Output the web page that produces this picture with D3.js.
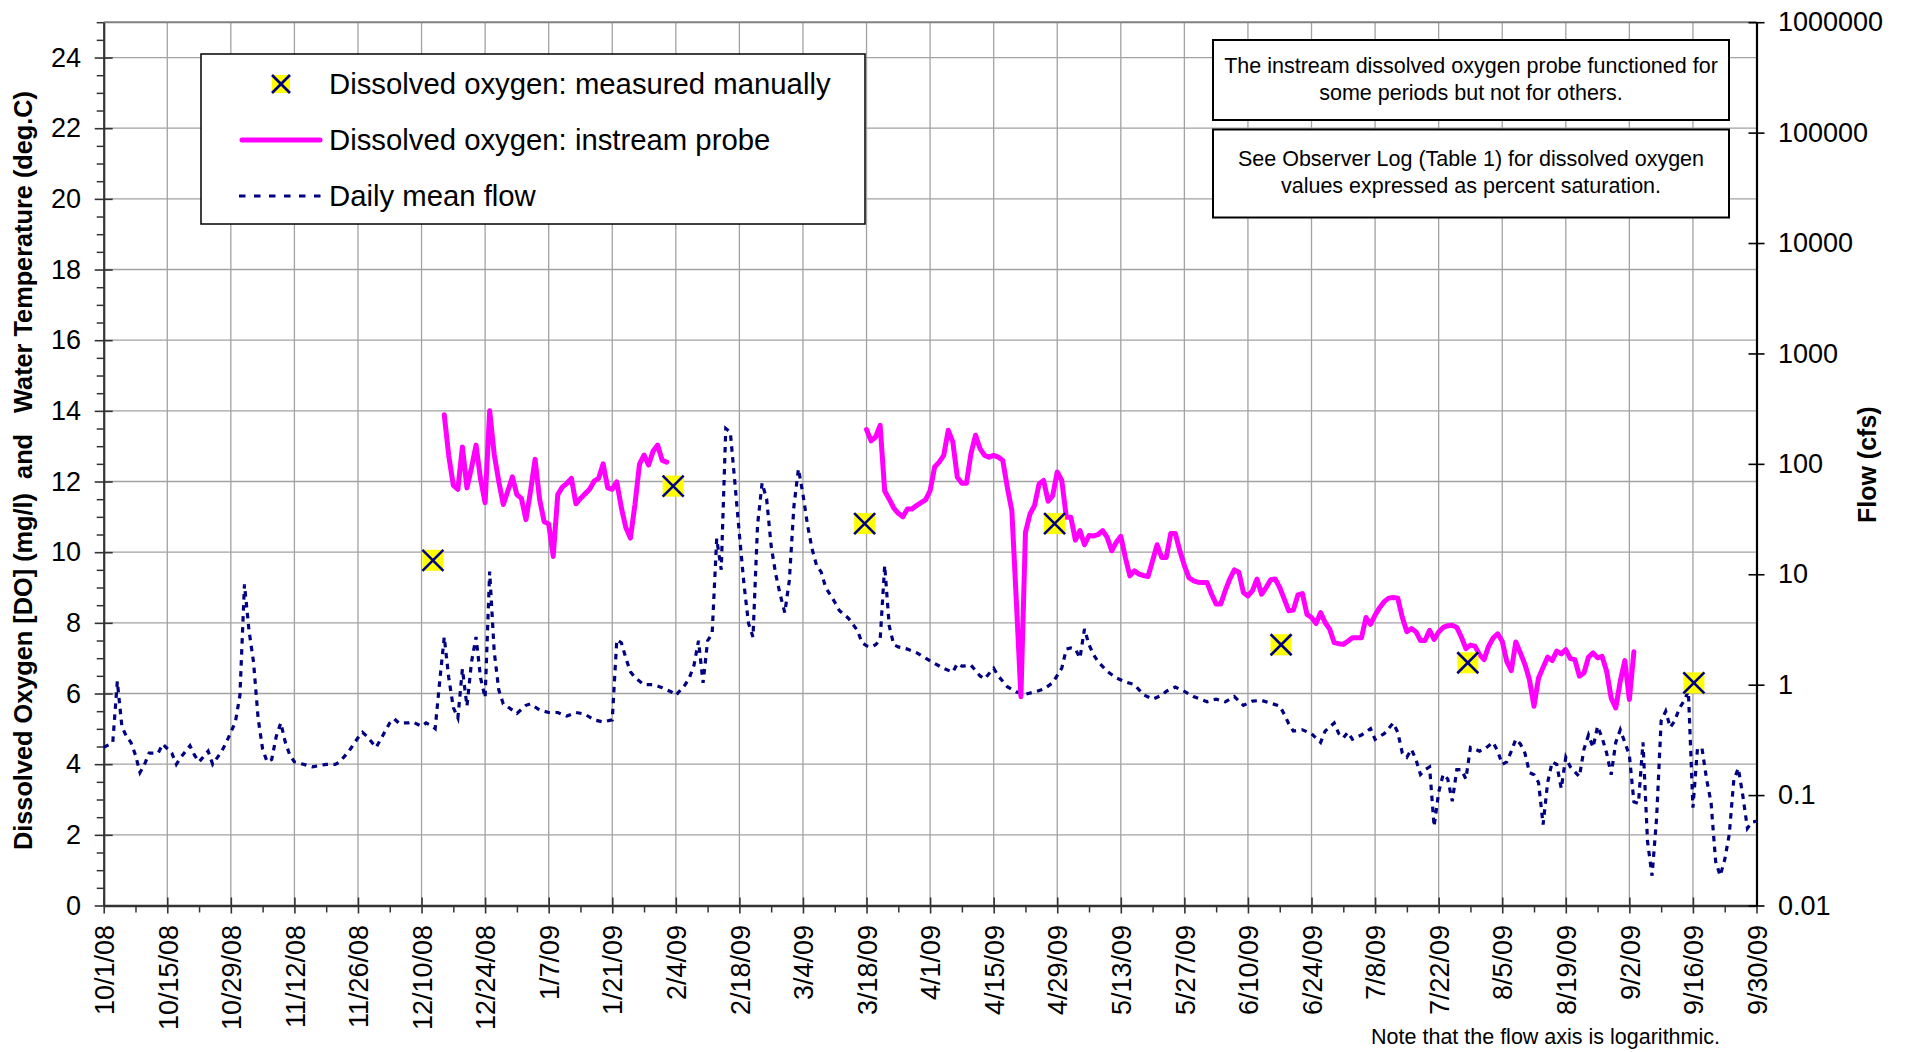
<!DOCTYPE html>
<html><head><meta charset="utf-8">
<script src="https://cdn.jsdelivr.net/npm/d3@7"></script>
<style>
html,body{margin:0;padding:0;background:#fff;}
svg{display:block;font-family:"Liberation Sans",Arial,sans-serif;}
</style></head><body>
<svg id="chart" width="1910" height="1052"></svg>
<script>
// ---------------- DATA ----------------
const startDate = "2008-10-01";
const endDate = "2009-09-30";
const xTickLabels = ["10/1/08","10/15/08","10/29/08","11/12/08","11/26/08","12/10/08","12/24/08",
  "1/7/09","1/21/09","2/4/09","2/18/09","3/4/09","3/18/09","4/1/09","4/15/09","4/29/09",
  "5/13/09","5/27/09","6/10/09","6/24/09","7/8/09","7/22/09","8/5/09","8/19/09","9/2/09","9/16/09","9/30/09"];
const doTicks = [0,2,4,6,8,10,12,14,16,18,20,22,24];
const flowTicks = [0.01,0.1,1,10,100,1000,10000,100000,1000000];
const flowTickLabels = ["0.01","0.1","1","10","100","1000","10000","100000","1000000"];

// Daily mean flow (cfs): day number counted from 10/1/08, and value
const flowDay = [0,2,3,4,5,6,7,8,9,10,12,13,15,16,17,19,20,21,23,24,26,27,28,29,30,31,32,33,34,35,36,37,38,39,40,41,42,44,46,49,51,52,54,56,57,58,60,61,63,64,65,67,68,70,71,72,73,74,75,76,77,78,79,80,81,82,83,84,85,86,87,88,89,91,93,94,96,98,100,102,104,106,108,110,112,113,114,115,116,117,119,121,123,125,126,128,129,130,131,132,133,134,135,136,137,138,139,140,141,142,143,144,145,146,147,148,149,150,151,152,153,154,155,156,157,158,159,161,162,164,166,167,168,169,170,171,172,173,174,175,177,179,181,183,185,187,188,189,191,193,194,196,197,199,201,203,205,207,209,211,212,213,214,215,216,217,218,219,221,223,225,227,229,231,233,234,236,238,240,243,245,247,249,251,253,255,257,259,260,261,262,264,266,268,269,271,272,273,274,275,277,279,280,282,284,285,286,287,288,289,290,291,292,293,294,295,296,297,298,299,300,301,302,303,304,306,307,308,309,310,311,312,313,314,315,316,317,318,319,320,321,322,323,325,326,327,328,329,330,331,332,333,334,335,336,337,338,339,340,341,342,343,344,345,346,347,348,349,350,351,352,353,354,355,356,357,358,359,360,361,362,363,364];
const flowCfs = [0.27,0.30,1.07,0.42,0.34,0.30,0.23,0.16,0.19,0.24,0.24,0.29,0.24,0.19,0.22,0.28,0.23,0.20,0.25,0.19,0.25,0.30,0.37,0.46,0.80,8.1,3.1,1.6,0.50,0.26,0.20,0.21,0.34,0.45,0.30,0.23,0.20,0.19,0.18,0.19,0.19,0.20,0.25,0.33,0.37,0.34,0.27,0.32,0.45,0.49,0.45,0.45,0.46,0.42,0.45,0.43,0.40,1.07,2.7,1.15,0.62,0.50,1.39,0.64,1.6,2.7,1.15,0.76,10.6,2.0,0.90,0.67,0.63,0.55,0.65,0.67,0.59,0.56,0.56,0.52,0.56,0.54,0.48,0.46,0.48,2.55,2.4,1.74,1.31,1.16,1.0,1.0,0.94,0.86,0.80,0.99,1.16,1.5,2.5,1.04,2.5,2.9,21,11,209,194,68,23,8.2,3.6,2.7,28,67,48,18,10,6.5,4.5,8.8,41,90,53,28,17,12,10.5,7.6,5.6,4.7,4.0,3.1,2.4,2.25,2.2,2.3,2.55,12,3.4,2.3,2.2,2.1,1.95,1.74,1.56,1.4,1.3,1.55,1.47,1.5,1.2,1.13,1.41,1.2,0.96,0.86,0.82,0.86,0.91,1.04,1.41,2.1,2.15,2.1,1.74,3.2,2.3,1.87,1.61,1.32,1.15,1.06,1.0,0.81,0.74,0.80,0.87,0.95,0.87,0.78,0.70,0.74,0.70,0.78,0.65,0.71,0.72,0.68,0.64,0.54,0.44,0.38,0.39,0.36,0.30,0.38,0.45,0.36,0.33,0.37,0.32,0.35,0.40,0.32,0.36,0.45,0.37,0.24,0.22,0.26,0.21,0.154,0.17,0.18,0.052,0.106,0.154,0.14,0.088,0.17,0.17,0.14,0.27,0.26,0.25,0.26,0.30,0.25,0.19,0.20,0.25,0.32,0.29,0.24,0.16,0.153,0.13,0.054,0.13,0.20,0.19,0.115,0.22,0.18,0.147,0.26,0.35,0.27,0.42,0.33,0.24,0.153,0.30,0.39,0.30,0.23,0.087,0.084,0.30,0.038,0.0186,0.062,0.47,0.575,0.41,0.47,0.61,0.71,0.87,0.077,0.265,0.265,0.14,0.085,0.025,0.0186,0.026,0.044,0.137,0.175,0.098,0.050,0.057,0.058];

// Instream probe DO (mg/l), daily, two periods
const probe1Start = "2008-12-15";
const probe1DO = [13.89,12.72,11.89,11.78,12.98,11.82,12.39,13.03,12.06,11.40,14.00,12.77,12.01,11.35,11.73,12.13,11.63,11.52,10.92,11.73,12.63,11.50,10.86,10.80,9.88,11.63,11.84,11.95,12.09,11.37,11.52,11.65,11.78,12.01,12.09,12.50,11.82,11.78,11.99,11.26,10.69,10.40,11.35,12.49,12.75,12.47,12.86,13.03,12.60,12.55];
const probe2Start = "2009-03-18";
const probe2DO = [13.47,13.15,13.26,13.59,11.73,11.50,11.25,11.10,11.00,11.22,
  11.22,11.32,11.40,11.48,11.74,12.41,12.55,12.74,13.45,13.12,
  12.12,11.95,11.95,12.79,13.31,12.93,12.74,12.69,12.74,12.69,
  12.60,11.84,11.18,8.60,5.91,10.56,11.08,11.32,11.93,12.03,
  11.44,11.60,12.27,12.03,10.99,10.99,10.34,10.61,10.21,10.47,
  10.46,10.50,10.61,10.42,10.04,10.28,10.45,9.85,9.33,9.47,
  9.38,9.34,9.31,9.76,10.21,9.85,9.85,10.53,10.53,10.04,
  9.62,9.28,9.19,9.15,9.14,9.14,8.81,8.53,8.53,8.91,
  9.24,9.50,9.43,8.86,8.76,8.91,9.24,8.81,9.00,9.22,
  9.24,9.00,8.67,8.34,8.36,8.79,8.83,8.24,8.15,7.98,
  8.29,8.01,7.82,7.44,7.41,7.39,7.48,7.58,7.58,7.58,
  8.15,7.96,8.22,8.43,8.60,8.70,8.72,8.70,8.15,7.75,
  7.84,7.75,7.50,7.50,7.79,7.53,7.74,7.87,7.92,7.93,
  7.87,7.60,7.27,7.37,7.34,7.10,6.96,7.34,7.57,7.69,
  7.48,6.91,6.65,7.46,7.15,6.82,6.39,5.64,6.44,6.74,
  7.03,6.93,7.20,7.12,7.24,6.99,6.96,6.49,6.58,7.03,
  7.15,7.01,7.05,6.63,5.87,5.59,6.35,6.93,5.83,7.18];

// Manually measured DO (mg/l)
const manualTime = ["2008-12-12 12:00","2009-02-03 10:00","2009-03-17 14:00","2009-04-28 10:00","2009-06-17 07:00","2009-07-28 10:00","2009-09-16 05:00"];
const manualDO = [9.77,11.87,10.81,10.81,7.38,6.87,6.30];

const legendLabels = ["Dissolved oxygen: measured manually","Dissolved oxygen: instream probe","Daily mean flow"];
const note1Lines = ["The instream dissolved oxygen probe functioned for","some periods but not for others."];
const note2Lines = ["See Observer Log (Table 1) for dissolved oxygen","values expressed as percent saturation."];
const leftTitle = "Dissolved Oxygen [DO] (mg/l)  and   Water Temperature (deg.C)";
const rightTitle = "Flow (cfs)";
const footNote = "Note that the flow axis is logarithmic.";

// ---------------- CHART ----------------
const P = {left: 103.7, right: 1756.5, top: 22.2, bottom: 905.5};
const parseDay = d3.utcParse("%Y-%m-%d");
const parseTick = d3.utcParse("%m/%d/%y");
const parseTime = d3.utcParse("%Y-%m-%d %H:%M");
const t0 = parseDay(startDate), t1 = parseDay(endDate);

const x = d3.scaleUtc().domain([t0, t1]).range([P.left, P.right]);
const yDO = d3.scaleLinear().domain([0, 25]).range([P.bottom, P.top]);
const yFlow = d3.scaleLog().domain([0.01, 1e6]).range([P.bottom, P.top]);

const tickDates = xTickLabels.map(s => parseTick(s));
const minorDates = tickDates.slice(0, -1).map(d => d3.utcDay.offset(d, 7));
const minorDO = d3.range(0.5, 25.01, 0.5).filter(v => v % 2 !== 0);

const svg = d3.select("#chart");
const GRID = "#a2a2a2";

// gridlines
const g = svg.append("g");
g.selectAll("line.vg").data(tickDates.slice(1, -1)).join("line")
  .attr("x1", d => x(d)).attr("x2", d => x(d)).attr("y1", P.top).attr("y2", P.bottom)
  .attr("stroke", GRID).attr("stroke-width", 1.3);
g.selectAll("line.hg").data(doTicks.filter(v => v > 0)).join("line")
  .attr("x1", P.left).attr("x2", P.right).attr("y1", d => yDO(d)).attr("y2", d => yDO(d))
  .attr("stroke", GRID).attr("stroke-width", 1.3);
// top border
g.append("line").attr("x1", P.left).attr("x2", P.right).attr("y1", P.top).attr("y2", P.top)
  .attr("stroke", "#808080").attr("stroke-width", 2);

// left axis
const axL = svg.append("g").attr("transform", `translate(${P.left},0)`)
  .call(d3.axisLeft(yDO).tickValues(doTicks).tickSize(9).tickSizeOuter(0).tickPadding(13.7).tickFormat(d3.format("d")));
axL.select(".domain").attr("stroke", "#333").attr("stroke-width", 2.2);
axL.selectAll(".tick line").attr("x1", 9).attr("stroke", "#333").attr("stroke-width", 1.6);
axL.selectAll(".tick text").attr("font-size", 27).attr("fill", "#000").attr("font-family", "Liberation Sans, Arial, sans-serif");
svg.append("g").attr("transform", `translate(${P.left},0)`)
  .call(d3.axisLeft(yDO).tickValues(minorDO).tickSize(7).tickSizeOuter(0).tickFormat(""))
  .call(s => s.select(".domain").remove())
  .selectAll(".tick line").attr("stroke", "#333").attr("stroke-width", 1.5);

// bottom axis
const axB = svg.append("g").attr("transform", `translate(0,${P.bottom})`)
  .call(d3.axisBottom(x).tickValues(tickDates).tickSize(8).tickSizeOuter(0).tickFormat((d, i) => xTickLabels[i]));
axB.select(".domain").attr("stroke", "#333").attr("stroke-width", 2.6);
axB.selectAll(".tick line").attr("y1", -8).attr("stroke", "#333").attr("stroke-width", 1.6);
axB.selectAll(".tick text").attr("font-size", 27).attr("fill", "#000")
  .attr("font-family", "Liberation Sans, Arial, sans-serif")
  .attr("transform", "rotate(-90)").attr("text-anchor", "end")
  .attr("x", -19.5).attr("y", 0).attr("dy", "0.36em");
svg.append("g").attr("transform", `translate(0,${P.bottom})`)
  .call(d3.axisBottom(x).tickValues(minorDates).tickSize(7).tickSizeOuter(0).tickFormat(""))
  .call(s => s.select(".domain").remove())
  .selectAll(".tick line").attr("stroke", "#333").attr("stroke-width", 1.5);

// right axis (log flow)
const axR = svg.append("g").attr("transform", `translate(${P.right},0)`)
  .call(d3.axisRight(yFlow).tickValues(flowTicks).tickSize(8).tickSizeOuter(0).tickPadding(13.5).tickFormat((d, i) => flowTickLabels[i]));
axR.select(".domain").attr("stroke", "#000").attr("stroke-width", 2.2);
axR.selectAll(".tick line").attr("x1", -8).attr("stroke", "#000").attr("stroke-width", 1.6);
axR.selectAll(".tick text").attr("font-size", 27).attr("fill", "#000").attr("font-family", "Liberation Sans, Arial, sans-serif");

// flow series
const NAVY = "#000080", MAG = "#FF00FF", YEL = "#FFFF00";
const flowData = flowDay.map((d, i) => ({t: d3.utcDay.offset(t0, d), v: flowCfs[i]}));
svg.append("path").datum(flowData)
  .attr("d", d3.line().x(d => x(d.t)).y(d => yFlow(d.v)))
  .attr("fill", "none").attr("stroke", NAVY).attr("stroke-width", 3.2)
  .attr("stroke-dasharray", "5.5,5.5");

// probe series
const p1 = probe1DO.map((v, i) => ({t: d3.utcDay.offset(parseDay(probe1Start), i), v}));
const p2 = probe2DO.map((v, i) => ({t: d3.utcDay.offset(parseDay(probe2Start), i), v}));
const doLine = d3.line().x(d => x(d.t)).y(d => yDO(d.v));
[p1, p2].forEach(seg => {
  svg.append("path").datum(seg).attr("d", doLine)
    .attr("fill", "none").attr("stroke", MAG).attr("stroke-width", 5)
    .attr("stroke-linejoin", "round").attr("stroke-linecap", "round");
});

// manual markers
function marker(sel, cx, cy, s) {
  const h = s / 2;
  sel.append("rect").attr("x", cx - h).attr("y", cy - h).attr("width", s).attr("height", s).attr("fill", YEL);
  sel.append("line").attr("x1", cx - h).attr("y1", cy - h).attr("x2", cx + h).attr("y2", cy + h).attr("stroke", NAVY).attr("stroke-width", 2.6);
  sel.append("line").attr("x1", cx - h).attr("y1", cy + h).attr("x2", cx + h).attr("y2", cy - h).attr("stroke", NAVY).attr("stroke-width", 2.6);
}
const mg = svg.append("g");
manualTime.forEach((s, i) => marker(mg, x(parseTime(s)), yDO(manualDO[i]), 21));

// legend
const lg = svg.append("g");
lg.append("rect").attr("x", 201).attr("y", 54).attr("width", 664).attr("height", 170)
  .attr("fill", "#fff").attr("stroke", "#000").attr("stroke-width", 1.5);
const rowsY = [84, 140, 196];
marker(lg, 281, rowsY[0], 18);
lg.append("line").attr("x1", 242).attr("x2", 320).attr("y1", rowsY[1]).attr("y2", rowsY[1])
  .attr("stroke", MAG).attr("stroke-width", 5).attr("stroke-linecap", "round");
lg.append("line").attr("x1", 239).attr("x2", 323).attr("y1", rowsY[2]).attr("y2", rowsY[2])
  .attr("stroke", NAVY).attr("stroke-width", 3.2).attr("stroke-dasharray", "6.5,8.5");
lg.selectAll("text").data(legendLabels).join("text")
  .attr("x", 329).attr("y", (d, i) => rowsY[i]).attr("dy", "0.35em")
  .attr("font-size", 29.3).attr("fill", "#000").text(d => d);

// note boxes
function noteBox(y0, h, lines, baselines) {
  const gb = svg.append("g");
  gb.append("rect").attr("x", 1213).attr("y", y0).attr("width", 516).attr("height", h)
    .attr("fill", "#fff").attr("stroke", "#000").attr("stroke-width", 2);
  gb.selectAll("text").data(lines).join("text")
    .attr("x", 1471).attr("y", (d, i) => baselines[i]).attr("text-anchor", "middle")
    .attr("font-size", 21.5).attr("fill", "#000").text(d => d);
}
noteBox(40, 80, note1Lines, [73, 99.5]);
noteBox(129.5, 88, note2Lines, [166, 192.5]);

// axis titles
svg.append("text").attr("transform", "translate(31.5,470.5) rotate(-90)")
  .attr("text-anchor", "middle").attr("font-size", 25.3).attr("font-weight", "bold")
  .style("white-space", "pre").attr("xml:space", "preserve").text(leftTitle);
svg.append("text").attr("transform", "translate(1876,464.7) rotate(-90)")
  .attr("text-anchor", "middle").attr("font-size", 25).attr("font-weight", "bold").text(rightTitle);

// footnote
svg.append("text").attr("x", 1720).attr("y", 1043.5).attr("text-anchor", "end")
  .attr("font-size", 21.5).attr("fill", "#000").text(footNote);
</script>
</body></html>
